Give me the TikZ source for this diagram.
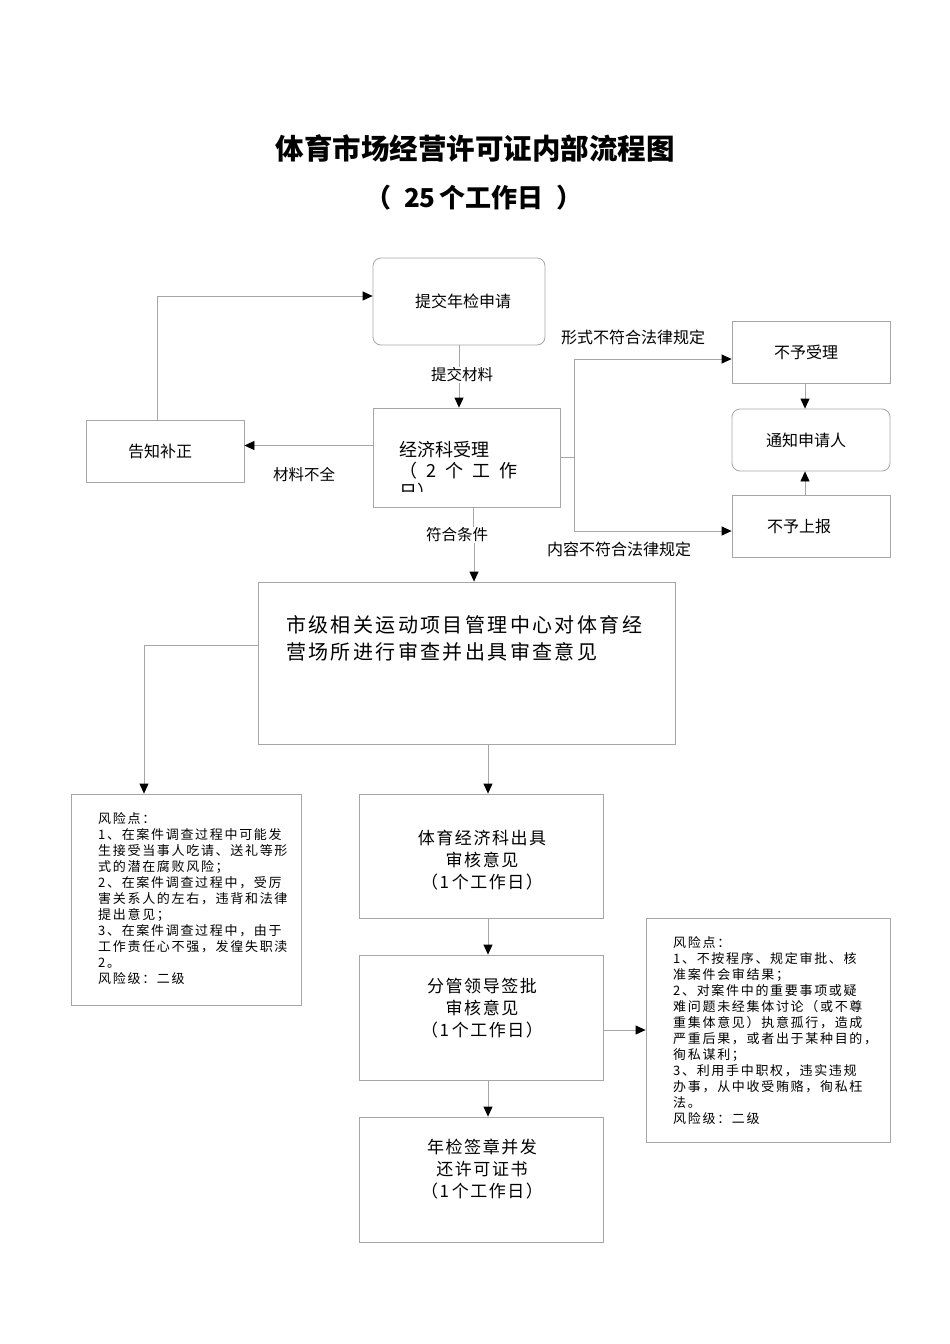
\documentclass[tikz,border=0pt]{standalone}
\usepackage{fontspec}
\setmainfont{Noto Sans CJK SC}
\usetikzlibrary{arrows.meta}
\newcommand\fsz[2]{\fontsize{#1}{#2}\selectfont}
\tikzset{
  bx/.style={draw=black!35, line width=0.8pt, inner sep=0pt},
  rbx/.style={bx, rounded corners=8pt},
  ln/.style={draw=black!35, line width=0.8pt},
  arr/.style={ln, -{Triangle[length=10pt,width=9pt,color=black,fill=black]}},
  lbl/.style={inner sep=1pt, font=\fsz{15.5}{18}},
  boxtxt/.style={inner sep=0pt, align=center, font=\fsz{17}{22}\addfontfeature{LetterSpace=9}},
  risktxt/.style={inner sep=0pt, align=left, anchor=north west, font=\fsz{13}{16}\addfontfeature{LetterSpace=13}},
}
\begin{document}
\begin{tikzpicture}[x=1pt,y=-1pt]
\useasboundingbox (0,0) rectangle (950,1344);
% title
\node[inner sep=0pt, font=\fsz{28.5}{32}\bfseries] (title) at (475,148) {体育市场经营许可证内部流程图};
\node[inner sep=0pt, font=\fsz{26}{30}\bfseries] (sub) at (474,198) {（\enspace 25\,个工作日\enspace ）};
% boxes
\node[rbx, minimum width=172pt, minimum height=87pt, font=\fsz{16}{20}] (a) at (459,301.5) {\hspace*{8pt}提交年检申请};
\node[bx, minimum width=187pt, minimum height=99pt] (b) at (466.5,457.5) {};
\begin{scope}
\clip (373,408) rectangle (560,491);
\node[inner sep=0pt, anchor=north west, align=left, font=\fsz{18}{21}] (btxt) at (399,441) {经济科受理\\（\enspace 2\enspace 个\enspace 工\enspace 作\\日）};
\end{scope}
\node[bx, minimum width=158pt, minimum height=62pt, font=\fsz{16}{20}] (gz) at (165,451) {\hspace*{-10pt}告知补正};
\node[bx, minimum width=158pt, minimum height=62pt, font=\fsz{16}{20}] (r1) at (811,352) {\hspace*{-10pt}不予受理};
\node[rbx, minimum width=158pt, minimum height=62pt, font=\fsz{16}{20}] (r2) at (811,440) {\hspace*{-10pt}通知申请人};
\node[bx, minimum width=158pt, minimum height=62pt, font=\fsz{16}{20}] (r3) at (811,526) {\hspace*{-24pt}不予上报};
\node[bx, minimum width=417pt, minimum height=162pt] (big) at (466.5,663) {};
\node[inner sep=0pt, anchor=north west, align=left, font=\fsz{20}{27}\addfontfeature{LetterSpace=12}] (bigtxt) at (286,615) {市级相关运动项目管理中心对体育经\\营场所进行审查并出具审查意见};
\node[bx, minimum width=230pt, minimum height=211pt] (k1) at (186,899.5) {};
\node[risktxt] (k1txt) at (98,812) {风险点：\\1、在案件调查过程中可能发\\生接受当事人吃请、送礼等形\\式的潜在腐败风险；\\2、在案件调查过程中，受厉\\害关系人的左右，违背和法律\\提出意见；\\3、在案件调查过程中，由于\\工作责任心不强，发徨失职渎\\2。\\风险级：二级};
\node[bx, minimum width=244pt, minimum height=124pt] (c1) at (481,856) {};
\node[boxtxt] (c1txt) at (482,860) {体育经济科出具\\审核意见\\（1\,个工作日）};
\node[bx, minimum width=244pt, minimum height=125pt] (c2) at (481,1017.5) {};
\node[boxtxt] (c2txt) at (482,1008) {分管领导签批\\审核意见\\（1\,个工作日）};
\node[bx, minimum width=244pt, minimum height=125pt] (c3) at (481,1179.5) {};
\node[boxtxt] (c3txt) at (482,1169) {年检签章并发\\还许可证书\\（1\,个工作日）};
\node[bx, minimum width=244pt, minimum height=224pt] (k2) at (768,1030) {};
\node[risktxt] (k2txt) at (673,936) {风险点：\\1、不按程序、规定审批、核\\准案件会审结果；\\2、对案件中的重要事项或疑\\难问题未经集体讨论（或不尊\\重集体意见）执意孤行，造成\\严重后果，或者出于某种目的，\\徇私谋利；\\3、利用手中职权，违实违规\\办事，从中收受贿赂，徇私枉\\法。\\风险级：二级};
% labels
\node[lbl] (l1) at (462,375) {提交材料};
\node[lbl] (l2) at (304,475) {材料不全};
\node[lbl] (l3) at (457,535) {符合条件};
\node[lbl, font=\fsz{16}{18}] (l4) at (633,337) {形式不符合法律规定};
\node[lbl, font=\fsz{16}{18}] (l5) at (619,549) {内容不符合法律规定};
% connectors
\draw[ln] (a.south) -- (a.south |- l1.north);
\draw[arr] (a.south |- l1.south) -- (a.south |- b.north);
\draw[arr] ([yshift=12pt]b.west) -- ([yshift=12pt]b.west -| gz.east);
\draw[arr] ([xshift=-8pt]gz.north) |- ([yshift=5.5pt]a.west);
\coordinate (sp) at (574,457.5);
\draw[ln] (b.east) -- (sp);
\draw[arr] (sp) |- ([yshift=-7pt]r1.west);
\draw[arr] (sp) |- ([yshift=-5pt]r3.west);
\draw[arr] ([xshift=-6pt]r1.south) -- ([xshift=-6pt]r2.north);
\draw[arr] ([xshift=-6pt]r3.north) -- ([xshift=-6pt]r2.south);
\draw[ln] ([xshift=7pt]b.south) -- ([xshift=7pt]b.south |- l3.north);
\draw[arr] ([xshift=7.5pt]big.north |- l3.south) -- ([xshift=7.5pt]big.north);
\draw[arr] ([yshift=18pt]big.west) -| ([xshift=-42pt]k1.north);
\draw[arr] ([xshift=21.5pt]big.south) -- ([xshift=7pt]c1.north);
\draw[arr] ([xshift=7pt]c1.south) -- ([xshift=7pt]c2.north);
\draw[arr] ([xshift=7pt]c2.south) -- ([xshift=7pt]c3.north);
\draw[arr] ([yshift=-12.5pt]c2.east) -- ([yshift=-12.5pt]c2.east -| k2.west);
\end{tikzpicture}
\end{document}
